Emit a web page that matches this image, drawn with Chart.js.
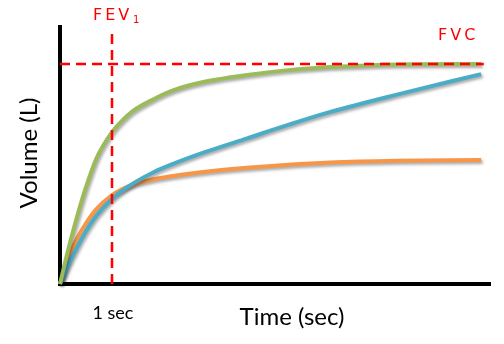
<!DOCTYPE html>
<html lang="en">
<head>
<meta charset="UTF-8" />
<title>Spirometry: volume vs time</title>
<script src="https://cdn.jsdelivr.net/npm/chart.js"></script>
<style>
  body { margin: 0; background: #ffffff; }
  .chart-box { position: relative; width: 504px; height: 344px; }
</style>
</head>
<body>
<div class="chart-box"><canvas id="spiroChart"></canvas></div>
<script>
  // seconds since start of forced exhalation
  const times = [0, 0.1, 0.2, 0.35, 0.5, 0.7, 1, 1.2, 1.4, 1.8, 2.2, 2.8, 3.6, 4.4, 5.2, 6.5, 8.1];
  // exhaled volume, litres
  const normalVol = [0, 0.5, 0.97, 1.62, 2.2, 2.85, 3.45, 3.72, 3.93, 4.2, 4.41, 4.6, 4.75, 4.86, 4.93, 4.99, 5.0];
  const obstructiveVol = [0, 0.27, 0.53, 0.88, 1.2, 1.55, 1.93, 2.12, 2.28, 2.54, 2.74, 3.0, 3.31, 3.62, 3.91, 4.31, 4.77];
  const restrictiveVol = [0, 0.37, 0.71, 1.08, 1.38, 1.7, 2.02, 2.16, 2.26, 2.38, 2.46, 2.55, 2.64, 2.71, 2.76, 2.8, 2.82];
  const fvc = 5.0;
  const fevTime = 1;
  const timeMax = 8.27;
  const volMax = 5.84;

  const toPoints = (vals) => vals.map((v, i) => ({ x: times[i], y: v }));

  const curve = (label, vals, color) => ({
    label: label,
    data: toPoints(vals),
    borderColor: color,
    borderWidth: 4,
    pointRadius: 0,
    cubicInterpolationMode: 'monotone',
    clip: false,
    order: 1,
    shadow: true
  });

  const dashed = (label, pts) => ({
    label: label,
    data: pts,
    borderColor: '#ff0000',
    borderWidth: 2.5,
    borderDash: [10, 6],
    pointRadius: 0,
    clip: false,
    order: 0
  });

  // soft drop shadow under the three curves
  const shadowPlugin = {
    id: 'curveShadow',
    beforeDatasetDraw(chart, args) {
      const ds = chart.data.datasets[args.index];
      if (!ds.shadow) return;
      const ctx = chart.ctx;
      ctx.save();
      ctx.shadowColor = 'rgba(0,0,0,0.35)';
      ctx.shadowBlur = 3;
      ctx.shadowOffsetX = 1.5;
      ctx.shadowOffsetY = 2;
    },
    afterDatasetDraw(chart, args) {
      const ds = chart.data.datasets[args.index];
      if (ds.shadow) chart.ctx.restore();
    }
  };

  // axis names and the FEV1 / FVC markers
  const labelPlugin = {
    id: 'labels',
    afterDraw(chart) {
      const ctx = chart.ctx;
      const xs = chart.scales.x;
      ctx.save();
      ctx.fillStyle = '#000000';
      ctx.textBaseline = 'alphabetic';
      ctx.textAlign = 'center';

      ctx.font = '24px Lato';
      ctx.fillText('Time (sec)', 292, 325);

      ctx.font = '18px Lato';
      ctx.fillText('1 sec', xs.getPixelForValue(fevTime) + 1, 319);

      ctx.save();
      ctx.translate(37, 153);
      ctx.rotate(-Math.PI / 2);
      ctx.font = '24px Lato';
      ctx.fillText('Volume (L)', 0, 0);
      ctx.restore();

      ctx.fillStyle = '#ff0000';
      ctx.textAlign = 'left';
      const fx = xs.getPixelForValue(fevTime);
      ctx.font = '16px "DejaVu Sans"';
      ctx.letterSpacing = '3px';
      ctx.fillText('FEV', fx - 19, 20);
      ctx.letterSpacing = '0px';
      ctx.font = '10px "DejaVu Sans"';
      ctx.fillText('1', fx + 21, 23);
      ctx.font = '16px "DejaVu Sans"';
      ctx.letterSpacing = '3px';
      ctx.fillText('FVC', 438, 40);
      ctx.restore();
    }
  };

  new Chart(document.getElementById('spiroChart'), {
    type: 'line',
    data: {
      datasets: [
        dashed('FVC', [{ x: 0, y: fvc }, { x: 8.15, y: fvc }]),
        dashed('FEV1', [{ x: fevTime, y: 0 }, { x: fevTime, y: 5.82 }]),
        curve('Normal', normalVol, '#9bbb59'),
        curve('Obstructive', obstructiveVol, '#4bacc6'),
        curve('Restrictive', restrictiveVol, '#f79646')
      ]
    },
    options: {
      responsive: true,
      maintainAspectRatio: false,
      animation: false,
      layout: { padding: { left: 60, right: 14, top: 27, bottom: 60 } },
      plugins: { legend: { display: false }, tooltip: { enabled: false } },
      scales: {
        x: {
          type: 'linear',
          min: 0,
          max: timeMax,
          grid: { display: false, drawTicks: false },
          ticks: { display: false },
          border: { display: true, color: '#000000', width: 4 }
        },
        y: {
          min: 0,
          max: volMax,
          grid: { display: false, drawTicks: false },
          ticks: { display: false },
          border: { display: true, color: '#000000', width: 4 }
        }
      }
    },
    plugins: [shadowPlugin, labelPlugin]
  });
</script>
</body>
</html>
